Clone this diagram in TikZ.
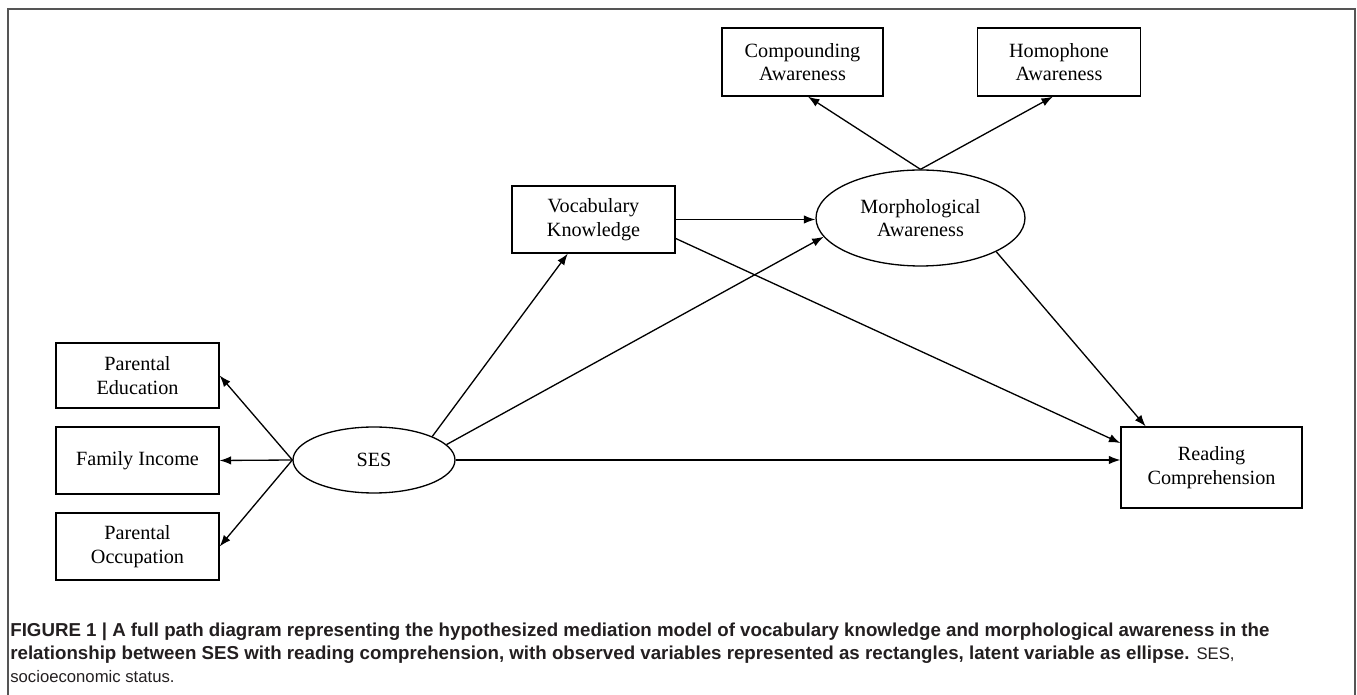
\documentclass[tikz,border=0pt]{standalone}
\usepackage{fontspec}
\setmainfont{Liberation Serif}
\newfontfamily\capfont{Liberation Sans}
\usetikzlibrary{shapes.geometric,arrows.meta}
\definecolor{framegray}{RGB}{85,85,85}
\definecolor{captext}{RGB}{35,31,32}

\begin{document}
\begin{tikzpicture}[
    x=0.02cm, y=-0.02cm,
    font=\fontsize{11.5}{13.5}\selectfont,
    block/.style={rectangle, draw, line width=0.75pt, align=center, inner sep=0pt, minimum width=3.26cm, minimum height=1.34cm},
    latent/.style={ellipse, draw, line width=0.75pt, align=center, inner sep=0pt, minimum width=3.24cm, minimum height=1.32cm},
    arrow/.style={-{Latex[length=6.5pt,width=4.8pt]}, line width=0.75pt}
]
\useasboundingbox (0,0) rectangle (1357,695);
\draw[framegray, line width=1.1pt] (8,695) -- (8,9) -- (1355,9) -- (1355,695);

% indicators of SES
\node[block, minimum height=1.3cm] (pe) at (137.5,375.5) {Parental\\Education};
\node[block] (fi) at (137.5,460.5) {Family Income};
\node[block] (po) at (137.5,546.5) {Parental\\Occupation};
\node[latent] (ses) at (374,460) {SES};

% mediators
\node[block] (vk) at (593.5,219.5) {Vocabulary\\Knowledge};
\node[latent, minimum width=4.18cm, minimum height=1.92cm] (ma) at (920.5,218) {Morphological\\Awareness};
\node[block, minimum width=3.22cm, minimum height=1.36cm] (ca) at (802.5,62) {Compounding\\Awareness};
\node[block, minimum height=1.36cm] (ha) at (1059,62) {Homophone\\Awareness};

% outcome
\node[block, minimum width=3.62cm, minimum height=1.62cm] (rc) at (1211.5,467.5) {Reading\\Comprehension};

\draw[arrow] (ses.west) -- (pe.east);
\draw[arrow] (ses.west) -- (fi.east);
\draw[arrow] (ses.west) -- (po.east);

\draw[arrow] (ses.22) -- (vk.233);
\draw[arrow] (ses.12) -- (ma.191);
\draw[arrow] (ses.east) -- (ses.east -| rc.west);

\draw[arrow] (vk.east) -- (vk.east -| ma.west);
\draw[arrow] (vk.-13) -- (rc.165);
\draw[arrow] (ma.-24) -- (rc.148);

\draw[arrow] (ma.north) -- (ca.-81);
\draw[arrow] (ma.north) -- (ha.-100);

\node[anchor=north west, inner sep=0pt, align=left, text=captext,
      font=\capfont\fontsize{10.65}{12.9}\selectfont] (caption) at (10,623)
  {\textbf{FIGURE 1 | A full path diagram representing the hypothesized mediation model of vocabulary knowledge and morphological awareness in the}\\
   \textbf{relationship between SES with reading comprehension, with observed variables represented as rectangles, latent variable as ellipse.} {\fontsize{9.5}{12.9}\selectfont SES,}\\
   {\fontsize{9.5}{12.9}\selectfont socioeconomic status.}};
\end{tikzpicture}
\end{document}
